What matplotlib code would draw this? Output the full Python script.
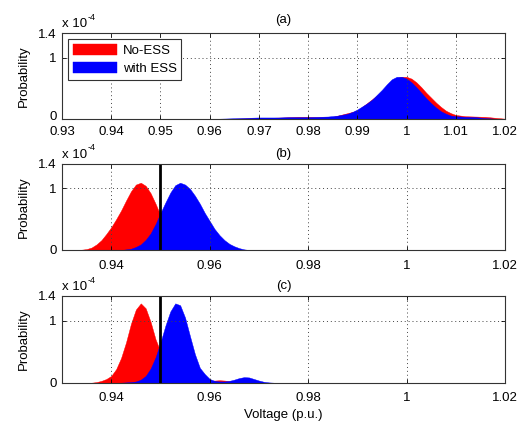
import numpy as np
import matplotlib
matplotlib.use("Agg")
import matplotlib.pyplot as plt
from matplotlib.transforms import ScaledTranslation

plt.rcParams['font.family'] = ['Liberation Sans', 'DejaVu Sans']

# (a) values, probability in units of 1e-4
va_blue = [0.960, 0.962, 0.964, 0.966, 0.968, 0.970, 0.972, 0.974, 0.976, 0.978,
           0.980, 0.982, 0.984, 0.986, 0.988, 0.989, 0.990, 0.991, 0.992, 0.993,
           0.994, 0.995, 0.996, 0.997, 0.998, 0.999, 1.000, 1.001, 1.002, 1.003,
           1.004, 1.005, 1.006, 1.007, 1.008, 1.009, 1.010, 1.012, 1.014, 1.016,
           1.018, 1.020]
pa_blue = [0.0, 0.01, 0.015, 0.02, 0.025, 0.03, 0.03, 0.03, 0.035, 0.035,
           0.035, 0.04, 0.045, 0.06, 0.09, 0.12, 0.16, 0.21, 0.26, 0.32,
           0.40, 0.48, 0.57, 0.65, 0.69, 0.69, 0.66, 0.60, 0.52, 0.43,
           0.34, 0.26, 0.19, 0.13, 0.09, 0.06, 0.05, 0.04, 0.035, 0.02,
           0.01, 0.005]
va_red = [0.960, 0.965, 0.970, 0.975, 0.978, 0.980, 0.982, 0.985, 0.990, 0.995,
          0.997, 0.998, 0.999, 1.000, 1.001, 1.002, 1.003, 1.004, 1.005, 1.006,
          1.007, 1.008, 1.009, 1.010, 1.012, 1.014, 1.016, 1.018, 1.020]
pa_red = [0.0, 0.01, 0.02, 0.03, 0.04, 0.04, 0.035, 0.04, 0.14, 0.45,
          0.62, 0.67, 0.69, 0.69, 0.66, 0.60, 0.52, 0.43, 0.35, 0.27,
          0.20, 0.14, 0.10, 0.07, 0.05, 0.045, 0.04, 0.025, 0.01]

# (b)
vb_red = [0.933, 0.934, 0.935, 0.936, 0.937, 0.938, 0.939, 0.940, 0.941, 0.942,
          0.943, 0.944, 0.945, 0.946, 0.947, 0.948, 0.949, 0.950, 0.951, 0.952,
          0.953, 0.954, 0.955, 0.956, 0.957]
pb_red = [0.0, 0.005, 0.015, 0.04, 0.09, 0.16, 0.26, 0.37, 0.50, 0.64,
          0.80, 0.95, 1.06, 1.09, 1.04, 0.92, 0.75, 0.56, 0.39, 0.25,
          0.14, 0.07, 0.03, 0.01, 0.0]
vb_blue = [0.942, 0.943, 0.944, 0.945, 0.946, 0.947, 0.948, 0.949, 0.950, 0.951,
           0.952, 0.953, 0.954, 0.955, 0.956, 0.957, 0.958, 0.959, 0.960, 0.961,
           0.962, 0.963, 0.964, 0.965, 0.966, 0.967, 0.968]
pb_blue = [0.0, 0.01, 0.02, 0.05, 0.09, 0.165, 0.27, 0.42, 0.60, 0.77,
           0.93, 1.05, 1.09, 1.06, 0.99, 0.88, 0.75, 0.60, 0.47, 0.34,
           0.24, 0.16, 0.10, 0.06, 0.03, 0.01, 0.0]

# (c)
vc_red = [0.936, 0.937, 0.938, 0.939, 0.940, 0.941, 0.942, 0.943, 0.944, 0.945,
          0.946, 0.947, 0.948, 0.949, 0.950, 0.951, 0.952, 0.953, 0.954, 0.955,
          0.956, 0.957, 0.958, 0.959, 0.960, 0.961, 0.962, 0.963, 0.964, 0.965,
          0.966]
pc_red = [0.0, 0.01, 0.03, 0.06, 0.11, 0.22, 0.40, 0.65, 0.95, 1.18,
          1.28, 1.20, 0.98, 0.70, 0.50, 0.30, 0.16, 0.09, 0.05, 0.03,
          0.02, 0.02, 0.02, 0.02, 0.025, 0.035, 0.04, 0.035, 0.025, 0.01,
          0.0]
vc_blue = [0.942, 0.943, 0.944, 0.945, 0.946, 0.947, 0.948, 0.949, 0.950, 0.951,
           0.952, 0.953, 0.954, 0.955, 0.956, 0.957, 0.958, 0.959, 0.960, 0.961,
           0.962, 0.963, 0.964, 0.965, 0.966, 0.967, 0.968, 0.969, 0.970, 0.971,
           0.972, 0.973]
pc_blue = [0.0, 0.005, 0.01, 0.02, 0.05, 0.11, 0.23, 0.41, 0.65, 0.92,
           1.15, 1.28, 1.25, 1.05, 0.75, 0.46, 0.24, 0.14, 0.06, 0.03,
           0.02, 0.02, 0.03, 0.05, 0.075, 0.09, 0.085, 0.06, 0.035, 0.015,
           0.005, 0.0]

threshold = 0.95
labels = ['No-ESS', 'with ESS']
titles = ['(a)', '(b)', '(c)']

fs = 9.5
fig = plt.figure(figsize=(5.19, 4.24), dpi=100)

# axes boxes in figure fractions (left, bottom, width, height)
boxes = [[0.1195, 0.7186, 0.8536, 0.2035],
         [0.1195, 0.4104, 0.8536, 0.2038],
         [0.1195, 0.0974, 0.8536, 0.2047]]

data = [(va_red, pa_red, va_blue, pa_blue),
        (vb_red, pb_red, vb_blue, pb_blue),
        (vc_red, pc_red, vc_blue, pc_blue)]

for i in range(3):
    ax = fig.add_axes(boxes[i])
    xr, yr, xb, yb = data[i]
    hr = ax.fill_between(xr, yr, color='red', lw=0.3, label=labels[0])
    hb = ax.fill_between(xb, yb, color='blue', lw=0.3, label=labels[1])
    if i > 0:
        ax.axvline(threshold, color='black', lw=2)

    ax.set_xlim(0.93, 1.02)
    ax.set_ylim(0, 1.4)
    if i == 0:
        xt = [0.93, 0.94, 0.95, 0.96, 0.97, 0.98, 0.99, 1.0, 1.01, 1.02]
        xl = ['0.93', '0.94', '0.95', '0.96', '0.97', '0.98', '0.99', '1', '1.01', '1.02']
        xpad = 4.5
    else:
        xt = [0.94, 0.96, 0.98, 1.0, 1.02]
        xl = ['0.94', '0.96', '0.98', '1', '1.02']
        xpad = 7
    ax.set_xticks(xt)
    ax.set_xticklabels(xl)
    ax.set_yticks([0, 1, 1.4])
    ax.set_yticklabels(['0', '1', '1.4'])
    ax.tick_params(direction='in', top=True, right=True, length=3,
                   labelsize=fs, width=0.6)
    ax.tick_params(axis='x', pad=xpad)
    ax.tick_params(axis='y', pad=4)
    ax.grid(True, linestyle=(0, (1, 3)), color='#444444', lw=0.7)
    for s in ax.spines.values():
        s.set_linewidth(0.8)
        s.set_color('#333333')

    if i == 0:
        # nudge the "0" up a bit so it clears the 0.93 label
        zl = ax.yaxis.get_major_ticks()[0].label1
        zl.set_transform(zl.get_transform() + ScaledTranslation(0, 3.5 / 100, fig.dpi_scale_trans))

    ax.set_ylabel('Probability', fontsize=fs, labelpad=6)
    ax.set_title(titles[i], fontsize=fs, pad=5 if i else 7)
    ax.text(0.0, 1.03, 'x 10', transform=ax.transAxes, fontsize=fs,
            ha='left', va='bottom')
    ax.text(0.057, 1.13, '-4', transform=ax.transAxes, fontsize=6.5,
            ha='left', va='bottom')

    if i == 0:
        leg = ax.legend(handles=[hr, hb], loc='upper left', fontsize=fs,
                        handlelength=3.4, handleheight=1.0, fancybox=False,
                        edgecolor='#333333', framealpha=1, borderaxespad=0.45,
                        borderpad=0.35, labelspacing=0.35, handletextpad=0.4)
        leg.get_frame().set_linewidth(0.8)
    if i == 2:
        ax.set_xlabel('Voltage (p.u.)', fontsize=fs, labelpad=3)

fig.savefig('out.png', dpi=100)
